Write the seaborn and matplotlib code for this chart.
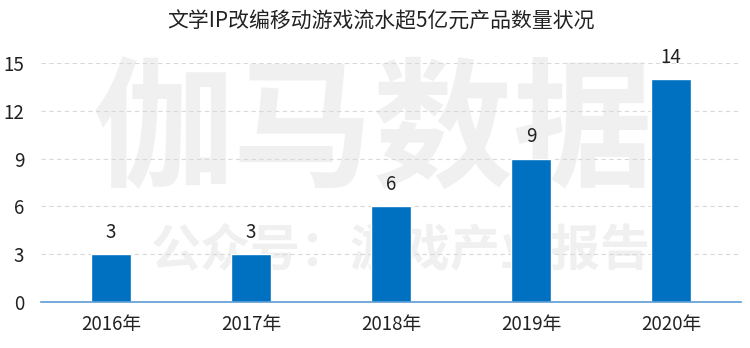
import matplotlib
matplotlib.use("Agg")
import matplotlib.pyplot as plt
import seaborn as sns
import pandas as pd

years = ["2016年", "2017年", "2018年", "2019年", "2020年"]
counts = [3, 3, 6, 9, 14]
yticks = [0, 3, 6, 9, 12, 15]
title = "文学IP改编移动游戏流水超5亿元产品数量状况"

sns.set_theme(style="white")
plt.rcParams['font.family'] = ['Noto Sans CJK SC', 'DejaVu Sans']

df = pd.DataFrame({"year": years, "count": counts})

fig = plt.figure(figsize=(7.5, 3.48), dpi=100)
ax = fig.add_axes([0.0547, 0.1322, 0.9333, 0.6868])

# watermark
ax.text(0.475, 0.70, "伽马数据", transform=ax.transAxes, ha="center", va="center",
        fontsize=101, color="#f0f0f0", fontweight="bold", zorder=0)
ax.text(0.513, 0.215, "公众号：游戏产业报告", transform=ax.transAxes, ha="center", va="center",
        fontsize=36, color="#f0f0f0", fontweight="bold", zorder=0)

sns.barplot(data=df, x="year", y="count", color="#0070C0", width=0.28,
            saturation=1, ax=ax, zorder=3)

for i, v in enumerate(counts):
    ax.text(i, v + 0.7, str(v), ha="center", va="bottom", fontsize=13.5, color="#222222", zorder=4)

ax.set_ylim(0, 15)
ax.set_xlim(-0.5, 4.5)
ax.set_yticks(yticks)
ax.set_yticklabels([str(t) for t in yticks])
ax.yaxis.grid(True, linestyle=(0, (4, 3)), color="#d9d9d9", linewidth=0.8, zorder=1)
ax.set_axisbelow(False)
for s in ["top", "right", "left"]:
    ax.spines[s].set_visible(False)
ax.spines["bottom"].set_color("#5B9BD5")
ax.spines["bottom"].set_linewidth(1.2)
ax.spines["bottom"].set_zorder(5)
ax.tick_params(axis="both", length=0, labelsize=13.5, colors="#222222")
ax.tick_params(axis="x", pad=9)
ax.tick_params(axis="y", pad=12)
ax.set_xlabel("")
ax.set_ylabel("")
fig.text(0.508, 0.937, title, ha="center", va="center", fontsize=15, color="#222222")

fig.savefig("out.png", dpi=100)
